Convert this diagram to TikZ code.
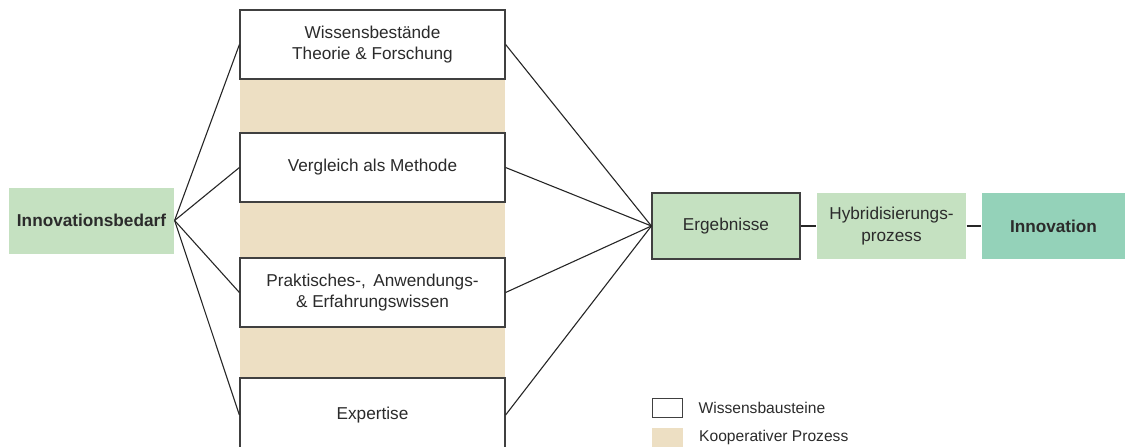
\documentclass[tikz,border=0pt]{standalone}
\usepackage{fontspec}
\setmainfont{Liberation Sans}
\usetikzlibrary{positioning}

\definecolor{hellgruen}{HTML}{C5E1C1}
\definecolor{tuerkis}{HTML}{94D2B9}
\definecolor{beige}{HTML}{EDDFC3}
\definecolor{rand}{HTML}{404040}
\definecolor{schrift}{HTML}{2B2B2B}

\begin{document}
\begin{tikzpicture} [x=1pt,y=-1pt,line width=1.2pt,
  font=\fontsize{17.2}{21.5}\selectfont,text=schrift,
  baustein/.style={draw=rand,fill=white,minimum width=265pt,minimum height=69pt,align=center,inner sep=0pt},
  feld/.style={fill=hellgruen,minimum height=66pt,align=center,inner sep=0pt},
  verbindung/.style={draw=black!85,line width=1.1pt}]
      \useasboundingbox (0,0) rectangle (1125,447);
      \fill[beige] (240,79) rectangle (505,447);

      \node[feld,minimum width=165pt,font=\fontsize{17.2}{21.5}\selectfont\bfseries] (bedarf) at (91.5,220.5) {Innovationsbedarf};

      \node[baustein] (w1) at (372.5,44.5) {Wissensbestände\\Theorie \& Forschung};
      \node[baustein] (w2) at (372.5,167.5) {Vergleich als Methode};
      \node[baustein] (w3) at (372.5,292.5) {Praktisches-,\, Anwendungs-\\\& Erfahrungswissen};
      \node[baustein,minimum height=74pt] (w4) at (372.5,415) {Expertise};

      \node[feld,draw=rand,minimum width=148pt] (erg) at (726,226) {Ergebnisse};
      \node[feld,minimum width=149pt] (hyb) at (891.5,226) {Hybridisierungs-\\prozess};
      \node[feld,fill=tuerkis,minimum width=143pt,font=\fontsize{17.2}{21.5}\selectfont\bfseries] (inno) at (1053.5,226) {Innovation};

      \draw[verbindung] (bedarf.east) -- (w1.west);
      \draw[verbindung] (bedarf.east) -- (w2.west);
      \draw[verbindung] (bedarf.east) -- (w3.west);
      \draw[verbindung] (bedarf.east) -- (w4.west);
      \draw[verbindung] (w1.east) -- (erg.west);
      \draw[verbindung] (w2.east) -- (erg.west);
      \draw[verbindung] (w3.east) -- (erg.west);
      \draw[verbindung] (w4.east) -- (erg.west);
      \draw[verbindung] (erg) -- (hyb);
      \draw[verbindung] (hyb) -- (inno);

      % Legende
      \node[draw=rand,line width=1pt,fill=white,minimum width=30pt,minimum height=19pt,inner sep=0pt] (leg1) at (667.5,408) {};
      \node[fill=beige,minimum width=31pt,minimum height=19pt,inner sep=0pt] (leg2) at (667.5,437.5) {};
      \node[right=15pt of leg1,font=\fontsize{15.6}{18}\selectfont,inner sep=0pt] (t1) {Wissensbausteine};
      \node[right=15pt of leg2,font=\fontsize{15.6}{18}\selectfont,inner sep=0pt] (t2) {Kooperativer Prozess};
\end{tikzpicture}
\end{document}
